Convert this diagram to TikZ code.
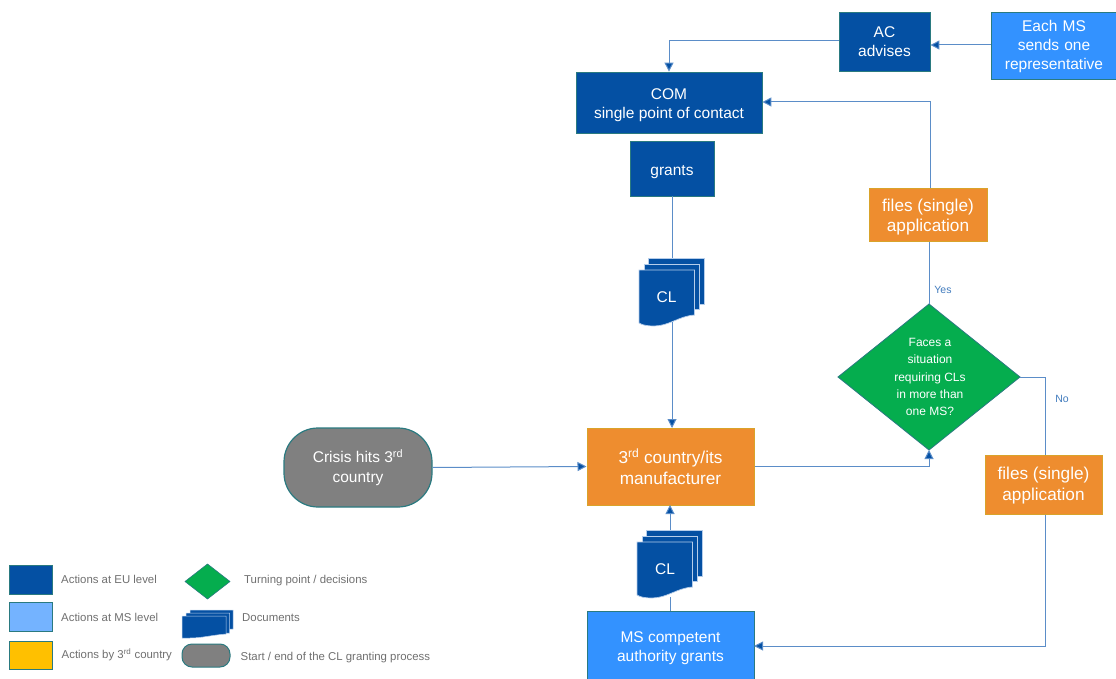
\documentclass[tikz,border=0pt]{standalone}
\usepackage{fontspec}
\setmainfont{Liberation Sans}
\usetikzlibrary{arrows.meta}
\definecolor{eublue}{HTML}{0450A3}
\definecolor{msblue}{HTML}{3392FF}
\definecolor{legblue}{HTML}{74B3FF}
\definecolor{orangebox}{HTML}{EE8D2F}
\definecolor{greenbox}{HTML}{05AD4E}
\definecolor{greybox}{HTML}{808080}
\definecolor{yellowbox}{HTML}{FFC000}
\definecolor{tealedge}{HTML}{2A7A80}
\definecolor{orangeedge}{HTML}{D9A32A}
\definecolor{linkblue}{HTML}{5B8DC8}
\definecolor{tipblue}{HTML}{0450A3}
\definecolor{legtext}{HTML}{6F6F6F}
\definecolor{sheetedge}{HTML}{B5CDEA}
\newcommand{\boxat}[7]{% style, name, x1, y1, x2, y2, text
  \node[#1,minimum width=#5pt-#3pt,minimum height=#6pt-#4pt] (#2) at ({(#3+#5)/2},{(#4+#6)/2}) {#7};}
\newcommand{\docat}[3]{% name, x, y
  \begin{scope}[shift={(#2,#3)}]
    \fill[eublue,draw=sheetedge,line width=.7pt] (9,0) -- (65,0) -- (65,46) -- (9,46) -- cycle;
    \fill[eublue,draw=sheetedge,line width=.7pt] (5,6) -- (60,6) -- (60,51) -- (5,51) -- cycle;
    \fill[eublue,draw=sheetedge,line width=.7pt] (0,12) -- (55.5,12) -- (55.5,57)
      .. controls (40,58) and (30,68) .. (15,68) .. controls (8,68) and (3,67) .. (0,65) -- cycle;
  \end{scope}}
\newcommand{\dn}[1]{\rule{0pt}{#1pt}}
\tikzset{
  x=1pt,y=-1pt,
  boxtxt/.style={text=white,align=center,inner sep=0pt,font=\fontsize{15.5}{19.5}\selectfont},
  eubox/.style={boxtxt,draw=tealedge,line width=.8pt,fill=eublue},
  msbox/.style={boxtxt,draw=tealedge,line width=.8pt,fill=msblue},
  orbox/.style={boxtxt,draw=orangeedge,line width=1pt,fill=orangebox,font=\fontsize{17.2}{20.5}\selectfont},
  link/.style={draw=linkblue,line width=1pt},
  arr/.style={link,-{Triangle[length=9pt,width=9pt,fill=tipblue]}},
  lbl/.style={text=linkblue!70!tipblue,font=\fontsize{10.5}{12}\selectfont,inner sep=0pt},
  legtxt/.style={text=legtext,font=\fontsize{11.4}{13}\selectfont,anchor=west,inner sep=0pt},
  doctxt/.style={text=white,font=\fontsize{15.5}{18}\selectfont,inner sep=0pt},
}
\begin{document}
\begin{tikzpicture}
\useasboundingbox (0,0) rectangle (1116,679);
\boxat{eubox}{ac}{839}{12}{930}{71}{AC\\advises}
\node[msbox,minimum width=126pt,minimum height=67pt,text width=124pt,font=\fontsize{15.5}{19}\selectfont] (ms1) at (1054,45.5) {\dn{14}Each MS\\sends one\\representative};
\boxat{eubox}{com}{576}{72}{762}{133}{\dn{16}COM\\single point of contact}
\boxat{eubox}{grants}{630}{141}{714}{196}{\dn{18}grants}
\boxat{orbox}{files1}{869}{189}{987}{241}{\dn{17}files (single)\\application}
\boxat{orbox}{third}{587}{428}{754}{505}{3\textsuperscript{rd} country/its\\manufacturer}
\boxat{orbox}{files2}{985}{455}{1102}{514}{\dn{15}files (single)\\application}
\node[msbox,minimum width=167pt,minimum height=78pt,anchor=north west,text depth=0pt] (ms2) at (587,611) {};
\node[boxtxt] (ms2t) at (670.5,648) {MS competent\\authority grants};
\node[draw=tealedge,line width=1.2pt,fill=greybox,rounded corners=34pt,minimum width=148pt,minimum height=79pt,boxtxt] (crisis) at (358,467.5) {Crisis hits 3\textsuperscript{rd}\\country};
\draw[draw=tealedge,line width=.8pt,fill=greenbox] (838,377) -- (929,304) -- (1020,377) -- (929,450) -- cycle;
\coordinate (dn) at (929,304);
\coordinate (de) at (1020,377);
\coordinate (ds) at (929,450);
\node[text=white,align=center,inner sep=0pt,font=\fontsize{12}{17.2}\selectfont] (dtxt) at (930,377) {Faces a\\situation\\requiring CLs\\in more than\\one MS?};
\docat{doc1}{639}{258}
\node[doctxt] (cl1) at (666.5,297) {CL};
\coordinate (doc1t) at (672,258);
\coordinate (doc1b) at (672,322);
\docat{doc2}{637}{530}
\node[doctxt] (cl2) at (665,569) {CL};
\coordinate (doc2t) at (670,530);
\coordinate (doc2b) at (670,597);
% connectors
\coordinate (c1) at (669,41);
\draw[arr] (ac.west |- c1) -- (c1) -- (c1 |- com.north);
\draw[arr] (ms1.west |- 0,45) -- (ac.east |- 0,45);
\coordinate (c2) at (930,102);
\draw[arr] (files1.north -| c2) -- (c2) -- (com.east |- c2);
\draw[link] (dn) -- (dn |- files1.south);
\node[lbl] (yes) at (943,289.5) {Yes};
\draw[link] (672,196) -- (doc1t);
\draw[arr] (doc1b) -- (672,428);
\draw[arr] (crisis.east) -- (third.west);
\draw[arr] (third.east) -- (ds |- third.east) -- (ds);
\coordinate (c3) at (1045,377);
\draw[link] (de) -- (c3) -- (c3 |- files2.north);
\node[lbl] (no) at (1062,398.5) {No};
\coordinate (c4) at (1045,646);
\draw[arr] (c3 |- files2.south) -- (c4) -- (754,646);
\draw[link] (670,611) -- (doc2b);
\draw[arr] (doc2t) -- (670,505);
% legend
\boxat{eubox}{l1}{9}{565}{52}{594}{}
\node[boxtxt,draw=tealedge,line width=.9pt,fill=legblue,minimum width=43pt,minimum height=29pt] (l2) at (30.5,616.5) {};
\node[boxtxt,draw=tealedge,line width=.9pt,fill=yellowbox,minimum width=43pt,minimum height=28pt] (l3) at (30.5,655) {};
\node[legtxt] at (61,579) {Actions at EU level};
\node[legtxt] at (61,617) {Actions at MS level};
\node[legtxt] at (61.5,655) {Actions by 3\textsuperscript{rd} country};
\draw[draw=tealedge,line width=.6pt,fill=greenbox] (185,581.5) -- (207.5,564) -- (230,581.5) -- (207.5,599) -- cycle;
\begin{scope}[shift={(182,610)}]
  \fill[eublue,draw=sheetedge,line width=.5pt] (8,0) -- (51,0) -- (51,19) -- (8,21) -- cycle;
  \fill[eublue,draw=sheetedge,line width=.5pt] (4,3) -- (47.5,3) -- (47.5,23) -- (4,25) -- cycle;
  \fill[eublue,draw=sheetedge,line width=.5pt] (0,6) -- (44,6) -- (44,24) .. controls (30,25) and (20,28) .. (8,28) -- (0,28) -- cycle;
\end{scope}
\node[draw=tealedge,line width=1pt,fill=greybox,rounded corners=10pt,minimum width=48pt,minimum height=23pt,inner sep=0pt] (l4) at (206,655.5) {};
\node[legtxt] at (244,580.5) {Turning point / decisions};
\node[legtxt] at (242,617.5) {Documents};
\node[legtxt] at (240.5,657.5) {Start / end of the CL granting process};
\end{tikzpicture}
\end{document}
